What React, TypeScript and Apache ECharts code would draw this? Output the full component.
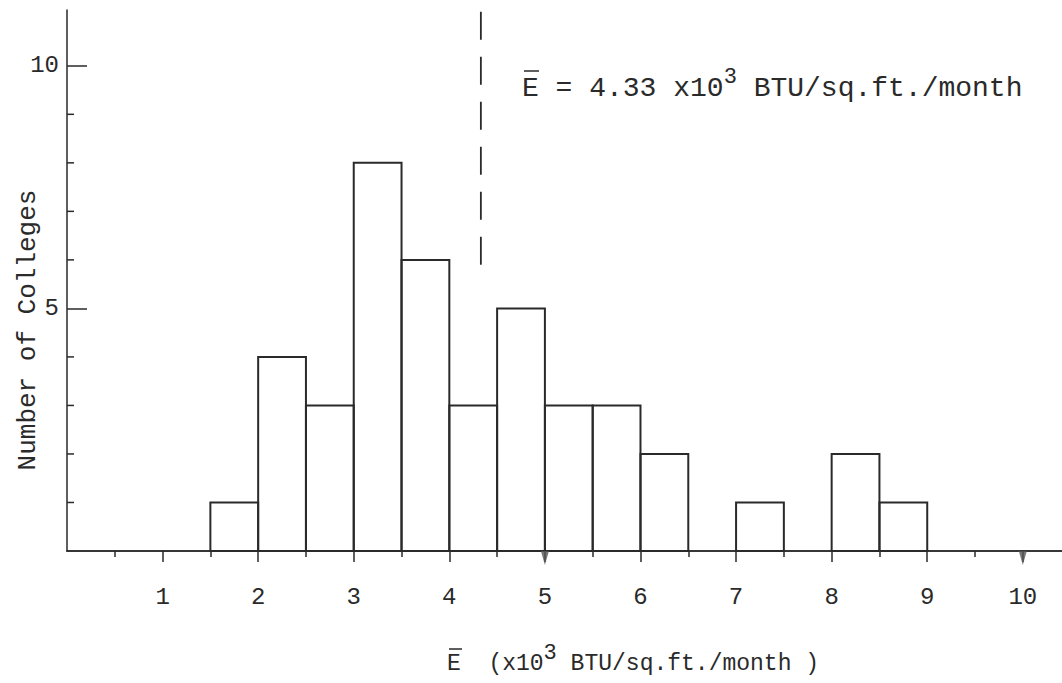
import React, { useEffect, useRef } from "react";
import * as echarts from "echarts";

// Histogram bins (x10^3 BTU/sq.ft./month), width 0.5
const binStarts = [1.5, 2, 2.5, 3, 3.5, 4, 4.5, 5, 5.5, 6, 6.5, 7, 7.5, 8, 8.5];
const binWidth = 0.5;
const counts = [1, 4, 3, 8, 6, 3, 5, 3, 3, 2, 0, 1, 0, 2, 1];
const meanE = 4.33;
const meanLineFrom = 5.9;
const meanLineTo = 11.15;
const xMajorTicks = [1, 2, 3, 4, 5, 6, 7, 8, 9, 10];
const xMinorTicks = [0.5, 1.5, 2.5, 3.5, 4.5, 5.5, 6.5, 7.5, 8.5, 9.5];
const yMajorTicks = [5, 10];
const yMinorTicks = [1, 2, 3, 4, 6, 7, 8, 9];
const triangleTicks = [5, 10];

const X_MAX = 10.41;
const Y_MAX = 11.15;
const FONT = "'Liberation Mono', 'DejaVu Sans Mono', monospace";
const INK = "#2a2a2a";

const W = 1062;
const H = 683;
const G_LEFT = 67;
const G_RIGHT = 0;
const G_TOP = 10;
const G_BOTTOM = 132;

export default function App() {
  const ref = useRef<HTMLDivElement>(null);
  useEffect(() => {
    document.body.style.margin = "0";
    const chart = echarts.init(ref.current!, null, { renderer: "svg" });
    const histData = binStarts.map((s, i) => [s, s + binWidth, counts[i]]);
    const gridH = H - G_TOP - G_BOTTOM;
    const baseX = {
      type: "value",
      min: 0,
      max: X_MAX,
      splitLine: { show: false },
      minorTick: { show: false },
      axisLine: { show: true, onZero: false, lineStyle: { color: INK, width: 1.5 } },
    };
    chart.setOption({
      animation: false,
      backgroundColor: "#ffffff",
      grid: { left: G_LEFT, right: G_RIGHT, top: G_TOP, bottom: G_BOTTOM },
      xAxis: [
        {
          ...baseX,
          position: "bottom",
          axisTick: { show: true, inside: false, length: 11, customValues: xMajorTicks, lineStyle: { color: INK, width: 1.5 } },
          axisLabel: {
            margin: 34,
            fontFamily: FONT,
            fontSize: 24,
            color: INK,
            customValues: xMajorTicks,
            formatter: (v: number) => String(v),
          },
        },
        {
          ...baseX,
          position: "top",
          offset: -gridH,
          axisTick: { show: true, inside: true, length: 6, customValues: xMinorTicks, lineStyle: { color: INK, width: 1.5 } },
          axisLabel: { show: false },
        },
      ],
      yAxis: {
        type: "value",
        min: 0,
        max: Y_MAX,
        position: "left",
        splitLine: { show: false },
        minorTick: { show: false },
        axisLine: { show: true, onZero: false, lineStyle: { color: INK, width: 1.5 } },
        axisTick: { show: true, inside: true, length: 20, customValues: yMajorTicks, lineStyle: { color: INK, width: 1.5 } },
        axisLabel: {
          margin: 8,
          fontFamily: FONT,
          fontSize: 24,
          color: INK,
          customValues: yMajorTicks,
          formatter: (v: number) => String(v),
        },
      },
      series: [
        {
          type: "custom",
          data: histData,
          encode: { x: [0, 1], y: 2 },
          renderItem: (params: any, api: any) => {
            const x0 = api.value(0);
            const x1 = api.value(1);
            const c = api.value(2);
            if (!c) return null;
            const p0 = api.coord([x0, c]);
            const p1 = api.coord([x1, 0]);
            return {
              type: "rect",
              shape: { x: p0[0], y: p0[1], width: p1[0] - p0[0], height: p1[1] - p0[1] },
              style: { fill: "none", stroke: INK, lineWidth: 2 },
            };
          },
        },
        {
          // minor y-axis ticks (inside, at every integer)
          type: "custom",
          data: yMinorTicks.map((v) => [0, v]),
          encode: { x: 0, y: 1 },
          clip: false,
          silent: true,
          renderItem: (params: any, api: any) => {
            const p = api.coord([api.value(0), api.value(1)]);
            return {
              type: "line",
              shape: { x1: p[0], y1: p[1], x2: p[0] + 7, y2: p[1] },
              style: { stroke: INK, lineWidth: 1.5 },
            };
          },
        },
        {
          type: "line",
          data: [
            [meanE, meanLineFrom],
            [meanE, meanLineTo],
          ],
          symbol: "none",
          clip: false,
          lineStyle: { color: INK, width: 1.8, type: [28, 17] },
        },
        {
          type: "scatter",
          data: triangleTicks.map((v) => [v, 0]),
          symbol: "triangle",
          symbolRotate: 180,
          symbolSize: [8, 14],
          symbolOffset: [0, 7],
          clip: false,
          itemStyle: { color: "#555" },
        },
      ],
      graphic: [
        {
          type: "text",
          x: 28,
          y: 330,
          rotation: Math.PI / 2,
          style: {
            text: "Number of Colleges",
            fontFamily: FONT,
            fontSize: 26,
            fill: INK,
            align: "center",
            verticalAlign: "middle",
          },
        },
        {
          type: "text",
          x: 522,
          y: 88,
          style: {
            text: "E = 4.33 x10{sup|3} BTU/sq.ft./month",
            fontFamily: FONT,
            fontSize: 28,
            fill: INK,
            align: "left",
            verticalAlign: "middle",
            rich: {
              sup: { fontFamily: FONT, fontSize: 22, fill: INK, verticalAlign: "top", padding: [0, 0, 22, 0] },
            },
          },
        },
        { type: "line", shape: { x1: 524, y1: 71, x2: 539, y2: 71 }, style: { stroke: INK, lineWidth: 1.5 } },
        {
          type: "text",
          x: 447,
          y: 664,
          style: {
            text: "E  (x10{sup|3} BTU/sq.ft./month )",
            fontFamily: FONT,
            fontSize: 23,
            fill: INK,
            align: "left",
            verticalAlign: "middle",
            rich: {
              sup: { fontFamily: FONT, fontSize: 22, fill: INK, verticalAlign: "top", padding: [0, 0, 22, 0] },
            },
          },
        },
        { type: "line", shape: { x1: 449, y1: 649, x2: 462, y2: 649 }, style: { stroke: INK, lineWidth: 1.5 } },
      ],
    });
    return () => chart.dispose();
  }, []);
  return <div ref={ref} style={{ width: W, height: H }} />;
}
